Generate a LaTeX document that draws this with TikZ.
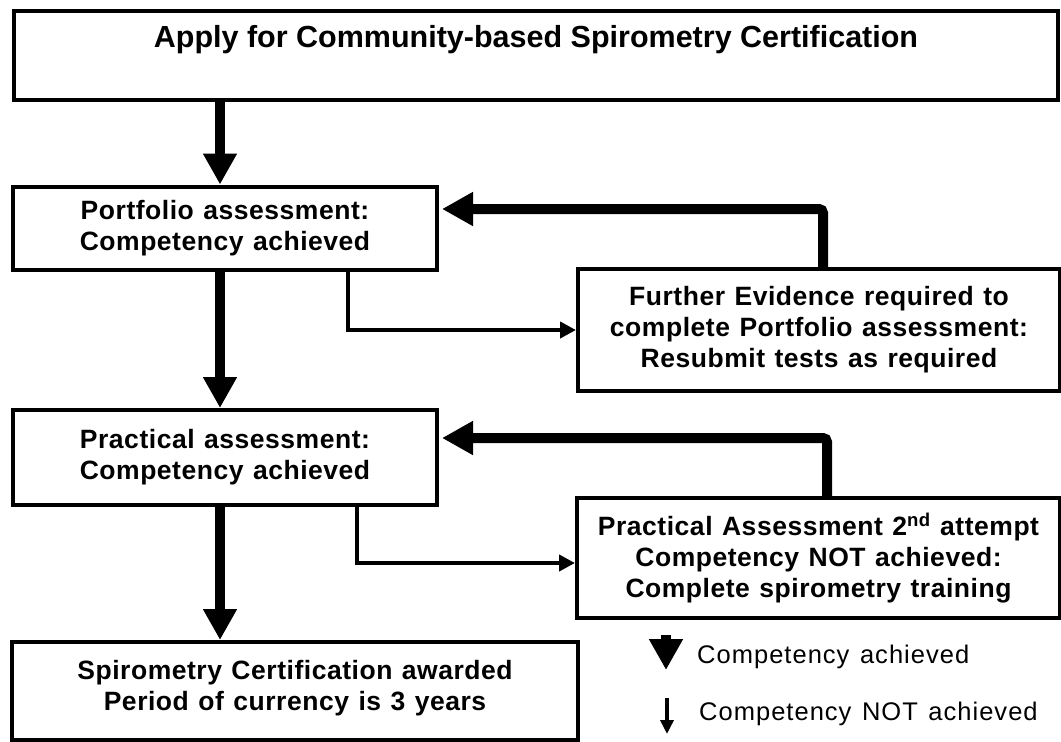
\documentclass[tikz,border=0pt]{standalone}
\usepackage{fontspec}
\setmainfont{Liberation Sans}
\newfontfamily\boxfont[LetterSpace=2, WordSpace=1.2]{Liberation Sans}
\newfontfamily\keyfont[LetterSpace=4, WordSpace=1.3]{Liberation Sans}
\usetikzlibrary{arrows.meta}
\tikzset{
  flow box/.style={
    draw,
    line width=4pt,
    align=center,
    inner sep=0pt,
    font=\boxfont\fontsize{26.5}{31}\selectfont\bfseries,
  },
  yes arrow/.style={
    line width=10pt,
    -{Triangle[width=32pt,length=31pt]},
  },
  no arrow/.style={
    line width=4.5pt,
    -{Triangle[width=16pt,length=16pt]},
  },
  key text/.style={
    font=\keyfont\fontsize{25.5}{28}\selectfont,
    inner sep=0pt,
  },
}

\begin{document}
\begin{tikzpicture}[x=1pt, y=-1pt]
      \useasboundingbox (0,0) rectangle (1061,742);

      \node[flow box, anchor=base, minimum width=1044pt, text height=36pt, text depth=53pt,
            font=\fontsize{30.5}{34}\selectfont\bfseries] (apply) at (536,47)
            {Apply for Community-based Spirometry Certification};

      \node[flow box, minimum width=424pt, minimum height=83pt]  (portfolio) at (225,228)
            {Portfolio assessment:\\Competency achieved};
      \node[flow box, minimum width=482pt, minimum height=122pt] (further)   at (819,330)
            {Further Evidence required to\\complete Portfolio assessment:\\Resubmit tests as required};
      \node[flow box, minimum width=424pt, minimum height=95pt]  (practical) at (225,457.5)
            {Practical assessment:\\Competency achieved};
      \node[flow box, minimum width=483pt, minimum height=120pt] (second)    at (818.5,558)
            {Practical Assessment 2\textsuperscript{nd} attempt\\Competency NOT achieved:\\Complete spirometry training};
      \node[flow box, minimum width=566pt, minimum height=98pt, text depth=12pt] (awarded) at (295,691)
            {Spirometry Certification awarded\\Period of currency is 3 years};

      % main path down the left
      \draw[yes arrow] ([xshift=-5pt]portfolio.north |- apply.south) -- ([xshift=-5pt]portfolio.north);
      \draw[yes arrow] ([xshift=-5pt]portfolio.south) -- ([xshift=-5pt]practical.north);
      \draw[yes arrow] ([xshift=-5pt]practical.south) -- ([xshift=-5pt]practical.south |- awarded.north);

      \draw[no arrow] ([xshift=123pt]portfolio.south) |- (further.west);
      \draw[no arrow] ([xshift=132pt]practical.south) |- ([yshift=-5pt]second.west);

      \draw[yes arrow, rounded corners=4pt, shorten >=3pt] ([xshift=4pt]further.north) |- ([yshift=19pt]portfolio.east);
      \draw[yes arrow, rounded corners=4pt, shorten >=3pt] ([xshift=8.5pt]second.north) |- ([yshift=19.5pt]practical.east);

      % key
      \node[key text, anchor=base west] (keyyes) at (697,663) {Competency achieved};
      \node[key text, anchor=base west] (keyno)  at (699,720) {Competency NOT achieved};
      \coordinate (yestop) at (666,635);
      \coordinate (yestip) at (666,670);
      \coordinate (notop)  at (667,698);
      \coordinate (notip)  at (667,734);
      \draw[yes arrow] (yestop) -- (yestip);
      \draw[line width=4pt, -{Triangle[width=13pt,length=14pt]}] (notop) -- (notip);
    \end{tikzpicture}
\end{document}
